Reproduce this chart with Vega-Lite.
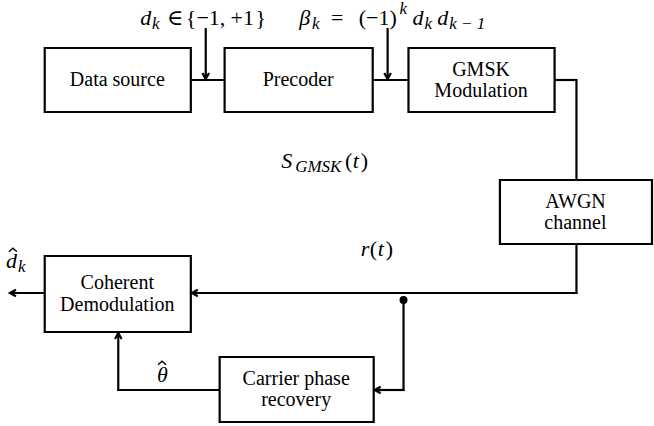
{
  "$schema": "https://vega.github.io/schema/vega-lite/v6.json",
  "width": 654,
  "height": 426,
  "autosize": {"type": "fit", "contains": "padding"},
  "padding": 0,
  "background": "white",
  "config": {"view": {"stroke": null}},
  "datasets": {
    "boxes": [
      {"name": "Data source", "x1": 45, "x2": 192, "y1": 48, "y2": 112},
      {"name": "Precoder", "x1": 226, "x2": 375, "y1": 48, "y2": 112},
      {"name": "GMSK Modulation", "x1": 411, "x2": 558, "y1": 48, "y2": 112},
      {"name": "AWGN channel", "x1": 503, "x2": 656, "y1": 180, "y2": 244},
      {"name": "Coherent Demodulation", "x1": 45, "x2": 192, "y1": 256, "y2": 332},
      {"name": "Carrier phase recovery", "x1": 221, "x2": 376, "y1": 357, "y2": 422}
    ],
    "wires": [
      {"x1": 192, "y1": 80, "x2": 226, "y2": 80},
      {"x1": 207, "y1": 28, "x2": 207, "y2": 79},
      {"x1": 375, "y1": 80, "x2": 411, "y2": 80},
      {"x1": 390, "y1": 28, "x2": 390, "y2": 79},
      {"x1": 558, "y1": 80, "x2": 580, "y2": 80},
      {"x1": 580, "y1": 79, "x2": 580, "y2": 180},
      {"x1": 580, "y1": 244, "x2": 580, "y2": 294},
      {"x1": 581, "y1": 293, "x2": 193, "y2": 293},
      {"x1": 45, "y1": 293, "x2": 10, "y2": 293},
      {"x1": 406, "y1": 300, "x2": 406, "y2": 391},
      {"x1": 407, "y1": 390, "x2": 377, "y2": 390},
      {"x1": 221, "y1": 390, "x2": 118, "y2": 390},
      {"x1": 119, "y1": 391, "x2": 119, "y2": 333}
    ],
    "arrows": [
      {"x": 207, "y": 79, "dir": "down"},
      {"x": 390, "y": 79, "dir": "down"},
      {"x": 193, "y": 293, "dir": "left"},
      {"x": 10, "y": 293, "dir": "left"},
      {"x": 377, "y": 390, "dir": "left"},
      {"x": 119, "y": 333, "dir": "up"}
    ],
    "dots": [{"x": 406, "y": 300}],
    "hats": [{"x": 13, "y": 250}, {"x": 163, "y": 363}],
    "labels": [
      {"x": 118, "y": 80, "t": "Data source"},
      {"x": 300, "y": 80, "t": "Precoder"},
      {"x": 484, "y": 70, "t": "GMSK"},
      {"x": 484, "y": 91, "t": "Modulation"},
      {"x": 579, "y": 202, "t": "AWGN"},
      {"x": 579, "y": 223, "t": "channel"},
      {"x": 118, "y": 283, "t": "Coherent"},
      {"x": 118, "y": 305, "t": "Demodulation"},
      {"x": 298, "y": 379, "t": "Carrier phase"},
      {"x": 298, "y": 400, "t": "recovery"}
    ],
    "math": [
      {"x": 141, "y": 25, "t": "d", "kind": "it"},
      {"x": 153, "y": 29, "t": "k", "kind": "sub"},
      {"x": 168, "y": 25, "t": "∈", "kind": "up"},
      {"x": 187, "y": 25, "t": "{−", "kind": "up"},
      {"x": 210, "y": 25, "t": "1,", "kind": "up"},
      {"x": 232, "y": 25, "t": "+1", "kind": "up"},
      {"x": 257, "y": 25, "t": "}", "kind": "up"},
      {"x": 301, "y": 25, "t": "β", "kind": "it"},
      {"x": 314, "y": 29, "t": "k", "kind": "sub"},
      {"x": 333, "y": 25, "t": "=", "kind": "up"},
      {"x": 361, "y": 25, "t": "(−1)", "kind": "up"},
      {"x": 402, "y": 14, "t": "k", "kind": "sub"},
      {"x": 415, "y": 25, "t": "d", "kind": "it"},
      {"x": 427, "y": 29, "t": "k", "kind": "sub"},
      {"x": 440, "y": 25, "t": "d", "kind": "it"},
      {"x": 452, "y": 29, "t": "k − 1", "kind": "sub"},
      {"x": 283, "y": 168, "t": "S", "kind": "it"},
      {"x": 297, "y": 172, "t": "GMSK", "kind": "sub"},
      {"x": 347, "y": 168, "t": "(", "kind": "up"},
      {"x": 355, "y": 168, "t": "t", "kind": "it"},
      {"x": 363, "y": 168, "t": ")", "kind": "up"},
      {"x": 363, "y": 256, "t": "r", "kind": "it"},
      {"x": 372, "y": 256, "t": "(", "kind": "up"},
      {"x": 380, "y": 256, "t": "t", "kind": "it"},
      {"x": 388, "y": 256, "t": ")", "kind": "up"},
      {"x": 6, "y": 268, "t": "d", "kind": "it"},
      {"x": 18, "y": 272, "t": "k", "kind": "sub"},
      {"x": 158, "y": 382, "t": "θ", "kind": "it"}
    ]
  },
  "encoding": {
    "x": {"type": "quantitative", "scale": {"domain": [0, 654]}, "axis": null},
    "y": {"type": "quantitative", "scale": {"domain": [0, 426], "reverse": true}, "axis": null}
  },
  "layer": [
    {
      "data": {"name": "boxes"},
      "mark": {"type": "rect", "fill": "white", "stroke": "black", "strokeWidth": 2.2},
      "encoding": {
        "x": {"field": "x1", "type": "quantitative"},
        "x2": {"field": "x2"},
        "y": {"field": "y1", "type": "quantitative"},
        "y2": {"field": "y2"}
      }
    },
    {
      "data": {"name": "wires"},
      "mark": {"type": "rule", "stroke": "black", "strokeWidth": 2.2},
      "encoding": {
        "x": {"field": "x1", "type": "quantitative"},
        "x2": {"field": "x2"},
        "y": {"field": "y1", "type": "quantitative"},
        "y2": {"field": "y2"}
      }
    },
    {
      "data": {"name": "arrows"},
      "transform": [{"filter": "datum.dir === 'down'"}],
      "mark": {"type": "point", "shape": "M -0.55 -1 L 0 0 L 0.55 -1", "size": 144, "filled": false, "stroke": "black", "strokeWidth": 2.2, "opacity": 1},
      "encoding": {
        "x": {"field": "x", "type": "quantitative"},
        "y": {"field": "y", "type": "quantitative"}
      }
    },
    {
      "data": {"name": "arrows"},
      "transform": [{"filter": "datum.dir === 'left'"}],
      "mark": {"type": "point", "shape": "M 1 -0.55 L 0 0 L 1 0.55", "size": 144, "filled": false, "stroke": "black", "strokeWidth": 2.2, "opacity": 1},
      "encoding": {
        "x": {"field": "x", "type": "quantitative"},
        "y": {"field": "y", "type": "quantitative"}
      }
    },
    {
      "data": {"name": "arrows"},
      "transform": [{"filter": "datum.dir === 'up'"}],
      "mark": {"type": "point", "shape": "M -0.55 1 L 0 0 L 0.55 1", "size": 144, "filled": false, "stroke": "black", "strokeWidth": 2.2, "opacity": 1},
      "encoding": {
        "x": {"field": "x", "type": "quantitative"},
        "y": {"field": "y", "type": "quantitative"}
      }
    },
    {
      "data": {"name": "dots"},
      "mark": {"type": "point", "shape": "circle", "size": 64, "filled": true, "fill": "black", "opacity": 1},
      "encoding": {
        "x": {"field": "x", "type": "quantitative"},
        "y": {"field": "y", "type": "quantitative"}
      }
    },
    {
      "data": {"name": "hats"},
      "mark": {"type": "point", "shape": "M -1 0.45 L 0 -0.45 L 1 0.45", "size": 64, "filled": false, "stroke": "black", "strokeWidth": 1.3, "opacity": 1},
      "encoding": {
        "x": {"field": "x", "type": "quantitative"},
        "y": {"field": "y", "type": "quantitative"}
      }
    },
    {
      "data": {"name": "labels"},
      "mark": {"type": "text", "font": "'Liberation Serif', 'Times New Roman', 'DejaVu Serif', serif", "fontSize": 20, "align": "center", "baseline": "middle", "color": "black"},
      "encoding": {
        "x": {"field": "x", "type": "quantitative"},
        "y": {"field": "y", "type": "quantitative"},
        "text": {"field": "t"}
      }
    },
    {
      "data": {"name": "math"},
      "transform": [{"filter": "datum.kind === 'it'"}],
      "mark": {"type": "text", "font": "'Liberation Serif', 'Times New Roman', 'DejaVu Serif', serif", "fontSize": 22, "fontStyle": "italic", "align": "left", "baseline": "alphabetic", "color": "black"},
      "encoding": {
        "x": {"field": "x", "type": "quantitative"},
        "y": {"field": "y", "type": "quantitative"},
        "text": {"field": "t"}
      }
    },
    {
      "data": {"name": "math"},
      "transform": [{"filter": "datum.kind === 'up'"}],
      "mark": {"type": "text", "font": "'Liberation Serif', 'Times New Roman', 'DejaVu Serif', serif", "fontSize": 22, "align": "left", "baseline": "alphabetic", "color": "black"},
      "encoding": {
        "x": {"field": "x", "type": "quantitative"},
        "y": {"field": "y", "type": "quantitative"},
        "text": {"field": "t"}
      }
    },
    {
      "data": {"name": "math"},
      "transform": [{"filter": "datum.kind === 'sub'"}],
      "mark": {"type": "text", "font": "'Liberation Serif', 'Times New Roman', 'DejaVu Serif', serif", "fontSize": 17, "fontStyle": "italic", "align": "left", "baseline": "alphabetic", "color": "black"},
      "encoding": {
        "x": {"field": "x", "type": "quantitative"},
        "y": {"field": "y", "type": "quantitative"},
        "text": {"field": "t"}
      }
    }
  ]
}
